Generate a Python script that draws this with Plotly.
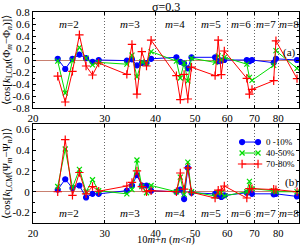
import math
import plotly.graph_objects as go

# ---------------- data ----------------
x_vals = [23, 24, 25, 26, 27, 28, 29,
          34, 35, 36, 37, 38, 39,
          45, 46, 47, 48, 49,
          56, 57, 58, 59,
          67, 68, 69,
          78, 79,
          89]

series_names = ["0 -10%", "40-50%", "70-80%"]

blue_a = [0.02, -0.15, 0.02, 0.09, 0.03, -0.03, 0.00,
          -0.01, 0.01, -0.09, -0.05, -0.05, 0.02,
          0.045, -0.03, -0.06, -0.14, 0.045,
          0.045, -0.02, -0.01, 0.00,
          0.00, -0.02, 0.00,
          -0.045, 0.02,
          0.00]
green_a = [-0.02, -0.55, -0.01, 0.21, 0.03, -0.08, -0.04,
           -0.07, 0.08, -0.28, -0.03, -0.05, 0.14,
           -0.02, -0.30, -0.05, -0.35, 0.03,
           -0.04, 0.07, 0.00, 0.045,
           -0.07, -0.29, -0.34,
           -0.09, 0.155,
           -0.14]
red_a = [-0.27, -0.70, -0.19, 0.42, -0.10, -0.25, -0.05,
         -0.24, 0.26, -0.57, 0.14, -0.10, 0.33,
         -0.26, -0.66, -0.24, -0.65, -0.12,
         -0.26, 0.33, -0.245, 0.15,
         -0.305, -0.57, -0.49,
         -0.345, 0.32,
         -0.31]

blue_b = [0.02, 0.12, 0.035, 0.06, -0.055, -0.02, -0.02,
          0.01, 0.06, 0.16, 0.06, 0.06, 0.01,
          0.00, 0.02, -0.07, 0.23, -0.01,
          -0.02, -0.04, -0.05, -0.035,
          -0.01, 0.00, -0.02,
          -0.025, -0.02,
          -0.045]
green_b = [0.05, 0.41, 0.04, 0.215, 0.00, 0.115, 0.01,
           -0.02, 0.02, 0.305, 0.05, -0.01, 0.06,
           0.00, 0.14, -0.025, 0.285, 0.00,
           -0.04, -0.01, -0.01, -0.04,
           0.00, 0.10, 0.03,
           0.01, 0.00,
           0.00]
red_b = [0.00, 0.50, -0.035, 0.185, -0.02, 0.05, 0.005,
         0.055, 0.09, 0.20, 0.05, 0.00, 0.01,
         0.00, 0.18, 0.025, 0.23, -0.005,
         -0.06, 0.015, 0.015, 0.055,
         -0.06, 0.03, 0.03,
         0.025, 0.02,
         0.00]

x_ticks = [20, 30, 40, 50, 60, 70, 80, 90]
ya_ticks = [-0.8, -0.6, -0.4, -0.2, 0, 0.2, 0.4, 0.6, 0.8]
ya_text = ["-0.8", "-0.6", "-0.4", "-0.2", "0", "0.2", "0.4", "0.6", "0.8"]
yb_ticks = [-0.2, 0, 0.2, 0.4, 0.6]
yb_text = ["-0.2", "0", "0.2", "0.4", "0.6"]

region_labels = ["m=2", "m=3", "m=4", "m=5", "m=6", "m=7", "m=8"]
region_x = [24.5, 34.6, 44.7, 54.8, 64.8, 74.8, 84.9]

# ---------------- styles ----------------
FONT = "Liberation Serif"
FS = 11
colors = ["#0000ff", "#00dd00", "#ff0000"]
symbols = ["circle", "x-thin-open", "cross-thin-open"]
msizes = [5, 5, 6]

fig = go.Figure()

for panel, ys in (("a", [blue_a, green_a, red_a]), ("b", [blue_b, green_b, red_b])):
    for i in range(3):
        fig.add_trace(go.Scatter(
            x=x_vals, y=ys[i], mode="lines+markers",
            name=series_names[i], showlegend=False,
            xaxis="x" if panel == "a" else "x2",
            yaxis="y" if panel == "a" else "y2",
            line=dict(color=colors[i], width=1),
            marker=dict(symbol=symbols[i], size=msizes[i], color=colors[i],
                        line=dict(color=colors[i], width=1.2)),
        ))

# legend samples (line with marker at both ends) on an auxiliary unit axis
leg_x0, leg_x1, leg_tx = 0.786, 0.846, 0.868
leg_y = [0.818, 0.707, 0.596]
for i in range(3):
    fig.add_trace(go.Scatter(
        x=[leg_x0, leg_x1], y=[leg_y[i], leg_y[i]], mode="lines+markers",
        showlegend=False, hoverinfo="skip", xaxis="x3", yaxis="y3",
        line=dict(color=colors[i], width=1),
        marker=dict(symbol=symbols[i], size=msizes[i], color=colors[i],
                    line=dict(color=colors[i], width=1.2)),
    ))

common_x = dict(
    type="log", range=[math.log10(20), math.log10(90)], tickvals=x_ticks,
    ticktext=[str(t) for t in x_ticks],
    showline=True, linecolor="black", linewidth=1, mirror="ticks",
    ticks="inside", ticklen=3, tickcolor="black",
    showgrid=True, griddash="1px,2px", gridcolor="#666666", gridwidth=1,
    zeroline=False, tickfont=dict(family=FONT, size=FS, color="black"),
    automargin=False,
)
common_y = dict(
    showline=True, linecolor="black", linewidth=1, mirror="ticks",
    ticks="inside", ticklen=3, tickcolor="black",
    showgrid=False, zeroline=True, zerolinecolor="#c88070", zerolinewidth=1,
    tickfont=dict(family=FONT, size=FS, color="black"),
    minor=dict(ticks="inside", ticklen=2, dtick=0.1, tickcolor="black"),
    automargin=False,
)

fig.update_layout(
    width=304, height=248,
    margin=dict(l=33, r=5, t=12, b=25),
    paper_bgcolor="white", plot_bgcolor="white",
    font=dict(family=FONT, size=FS, color="black"),
    xaxis=dict(common_x, anchor="y", domain=[0, 1]),
    yaxis=dict(common_y, domain=[0.545, 1], range=[-0.8, 0.8],
               tickvals=ya_ticks, ticktext=ya_text,
               title=dict(text="⟨cos[<i>k</i><sub>LCM</sub>(Φ<sub><i>m</i></sub>−Φ<sub><i>n</i></sub>)]⟩",
                          font=dict(family=FONT, size=FS), standoff=2)),
    xaxis2=dict(common_x, anchor="y2", domain=[0, 1],
                tickfont=dict(family=FONT, size=10.5, color="black")),
    yaxis2=dict(common_y, domain=[0, 0.469], range=[-0.3, 0.65],
                tickvals=yb_ticks, ticktext=yb_text,
                title=dict(text="⟨cos[<i>k</i><sub>LCM</sub>(Ψ<sub><i>m</i></sub>−Ψ<sub><i>n</i></sub>)]⟩",
                           font=dict(family=FONT, size=FS), standoff=2)),
    xaxis3=dict(domain=[0, 1], range=[0, 1], visible=False, anchor="y3",
                overlaying="x2"),
    yaxis3=dict(domain=[0, 0.469], range=[0, 1], visible=False, anchor="x3",
                overlaying="y2"),
    showlegend=False,
)

ann = []
for lbl, xv in zip(region_labels, region_x):
    txt = "<i>m</i>=" + lbl.split("=")[1]
    ann.append(dict(x=math.log10(xv), y=0.6, xref="x", yref="y", text=txt, showarrow=False,
                    font=dict(family=FONT, size=FS)))
    ann.append(dict(x=math.log10(xv), y=-0.2, xref="x2", yref="y2", text=txt, showarrow=False,
                    font=dict(family=FONT, size=FS)))
ann.append(dict(x=math.log10(85.4), y=0.13, xref="x", yref="y", text="(a)", showarrow=False,
                font=dict(family=FONT, size=FS)))
ann.append(dict(x=math.log10(86.4), y=0.085, xref="x2", yref="y2", text="(b)", showarrow=False,
                font=dict(family=FONT, size=FS)))
ann.append(dict(x=0.5, y=1.0, xref="paper", yref="paper", yanchor="middle", yshift=5,
                text="σ=0.3", showarrow=False, font=dict(family=FONT, size=12)))
ann.append(dict(x=0.5, y=0.0, xref="paper", yref="paper", yanchor="bottom", yshift=-25,
                text="10<i>m</i>+<i>n</i> (<i>m</i>&lt;<i>n</i>)", showarrow=False,
                font=dict(family=FONT, size=10.5)))
for i in range(3):
    ann.append(dict(x=leg_tx, y=leg_y[i], xref="x3", yref="y3", xanchor="left",
                    text=series_names[i], showarrow=False,
                    font=dict(family=FONT, size=9)))
fig.update_layout(annotations=ann)

fig.write_html("out.html", config={"displayModeBar": False},
               post_script="document.body.style.margin='0';document.body.style.padding='0';")
